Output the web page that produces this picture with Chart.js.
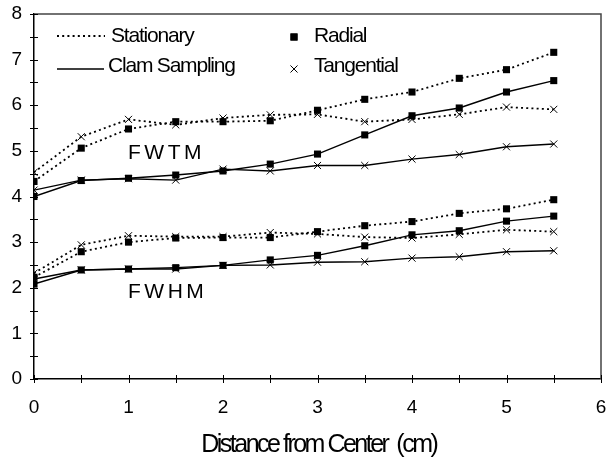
<!DOCTYPE html>
<html><head><meta charset="utf-8">
<script src="https://cdn.jsdelivr.net/npm/chart.js@4.4.1/dist/chart.umd.min.js"></script>
<style>html,body{margin:0;padding:0;background:#fff}</style>
</head><body>
<canvas id="c" width="607" height="462"></canvas>
<script>
const distances = [0, 0.5, 1, 1.5, 2, 2.5, 3, 3.5, 4, 4.5, 5, 5.5];
const xTickValues = [0, 1, 2, 3, 4, 5, 6];
const yTickValues = [0, 1, 2, 3, 4, 5, 6, 7, 8];

const fwtmRadialStationary     = [4.33, 5.06, 5.48, 5.64, 5.64, 5.66, 5.89, 6.13, 6.29, 6.59, 6.78, 7.16];
const fwtmTangentialStationary = [4.53, 5.31, 5.69, 5.57, 5.72, 5.79, 5.80, 5.64, 5.69, 5.80, 5.96, 5.91];
const fwtmRadialClam           = [4.00, 4.35, 4.40, 4.47, 4.56, 4.71, 4.93, 5.35, 5.77, 5.94, 6.29, 6.54];
const fwtmTangentialClam       = [4.14, 4.36, 4.39, 4.36, 4.60, 4.56, 4.68, 4.68, 4.82, 4.92, 5.09, 5.15];

const fwhmRadialStationary     = [2.23, 2.79, 3.00, 3.09, 3.10, 3.10, 3.23, 3.36, 3.45, 3.63, 3.73, 3.93];
const fwhmTangentialStationary = [2.32, 2.94, 3.14, 3.12, 3.12, 3.21, 3.18, 3.11, 3.09, 3.17, 3.27, 3.23];
const fwhmRadialClam           = [2.08, 2.39, 2.41, 2.44, 2.49, 2.61, 2.71, 2.92, 3.16, 3.25, 3.46, 3.57];
const fwhmTangentialClam       = [2.19, 2.39, 2.41, 2.41, 2.49, 2.50, 2.56, 2.57, 2.65, 2.68, 2.79, 2.81];

const FONT = "'Liberation Sans', Arial, sans-serif";

function pts(vals) { return vals.map((v, i) => ({x: distances[i], y: v})); }
function ds(label, vals, dotted, marker) {
  return {
    label, data: pts(vals), showLine: true,
    borderColor: '#000', backgroundColor: '#000',
    borderWidth: dotted ? 1.8 : 1.4,
    borderDash: dotted ? [2, 3.2] : [],
    pointStyle: marker === 'sq' ? 'rect' : 'crossRot',
    pointRadius: 5,
    pointBorderWidth: marker === 'sq' ? 0 : 1,
    pointBackgroundColor: '#000', pointBorderColor: '#000',
    tension: 0
  };
}

const datasets = [
  ds('FWTM Radial Stationary', fwtmRadialStationary, true, 'sq'),
  ds('FWTM Tangential Stationary', fwtmTangentialStationary, true, 'x'),
  ds('FWTM Radial Clam Sampling', fwtmRadialClam, false, 'sq'),
  ds('FWTM Tangential Clam Sampling', fwtmTangentialClam, false, 'x'),
  ds('FWHM Radial Stationary', fwhmRadialStationary, true, 'sq'),
  ds('FWHM Tangential Stationary', fwhmTangentialStationary, true, 'x'),
  ds('FWHM Radial Clam Sampling', fwhmRadialClam, false, 'sq'),
  ds('FWHM Tangential Clam Sampling', fwhmTangentialClam, false, 'x')
];

const decor = {
  id: 'decor',
  afterDraw(chart) {
    const ctx = chart.ctx, a = chart.chartArea;
    const xs = chart.scales.x, ys = chart.scales.y;
    ctx.save();
    ctx.strokeStyle = '#444'; ctx.lineWidth = 1.5;
    ctx.beginPath();
    ctx.moveTo(a.left, a.top); ctx.lineTo(a.right, a.top); ctx.lineTo(a.right, a.bottom);
    ctx.stroke();
    ctx.strokeStyle = '#000'; ctx.lineWidth = 1;
    ctx.beginPath();
    for (let v = xs.min; v <= xs.max + 1e-9; v += 0.5) {
      const px = Math.round(xs.getPixelForValue(v)) + 0.5;
      ctx.moveTo(px, a.bottom - 4); ctx.lineTo(px, a.bottom + 4);
    }
    for (let v = ys.min; v <= ys.max + 1e-9; v += 0.5) {
      const py = Math.round(ys.getPixelForValue(v)) + 0.5;
      ctx.moveTo(a.left - 4, py); ctx.lineTo(a.left + 4, py);
    }
    ctx.stroke();

    ctx.fillStyle = '#000';
    ctx.font = '21px ' + FONT;
    ctx.letterSpacing = '-1.2px';
    ctx.textBaseline = 'alphabetic';
    ctx.textAlign = 'left';
    ctx.lineWidth = 1.8; ctx.setLineDash([2, 3.2]);
    ctx.beginPath(); ctx.moveTo(57, 36); ctx.lineTo(105, 36); ctx.stroke();
    ctx.setLineDash([]); ctx.lineWidth = 1.4;
    ctx.beginPath(); ctx.moveTo(57, 69); ctx.lineTo(104, 69); ctx.stroke();
    ctx.fillText('Stationary', 111, 42);
    ctx.fillText('Clam Sampling', 108, 72);
    Chart.helpers.drawPoint(ctx, {pointStyle: 'rect', radius: 5, borderWidth: 0}, 294, 37);
    ctx.fill();
    ctx.lineWidth = 1;
    Chart.helpers.drawPoint(ctx, {pointStyle: 'crossRot', radius: 5, borderWidth: 1}, 294, 69);
    ctx.fillText('Radial', 314, 42);
    ctx.fillText('Tangential', 314, 72);

    ctx.font = '21px ' + FONT;
    ctx.letterSpacing = '3.5px';
    ctx.fillText('FWTM', 128, 159);
    ctx.fillText('FWHM', 128, 298);

    ctx.font = '25px ' + FONT;
    ctx.letterSpacing = '-2.5px';
    ctx.textAlign = 'center';
    ctx.fillText('Distance from Center  (cm)', (a.left + a.right) / 2 + 1.25, 452);
    ctx.restore();
  }
};

function zeroPad(s) { s.paddingLeft = 0; s.paddingRight = 0; s.paddingTop = 0; s.paddingBottom = 0; }

new Chart(document.getElementById('c'), {
  type: 'scatter',
  data: {datasets},
  plugins: [decor],
  options: {
    responsive: false,
    animation: false,
    events: [],
    layout: {padding: {left: 0, right: 6, top: 14, bottom: 0}},
    plugins: {legend: {display: false}, tooltip: {enabled: false}},
    scales: {
      x: {
        type: 'linear', min: 0, max: 6,
        afterBuildTicks: s => { s.ticks = xTickValues.map(v => ({value: v})); },
        afterFit: s => { s.height = 83; zeroPad(s); },
        grid: {display: false, drawTicks: false},
        border: {display: true, color: '#000', width: 1.5},
        ticks: {color: '#000', padding: 17, font: {family: FONT, size: 19}, maxRotation: 0, autoSkip: false}
      },
      y: {
        type: 'linear', min: 0, max: 8,
        afterBuildTicks: s => { s.ticks = yTickValues.map(v => ({value: v})); },
        afterFit: s => { s.width = 34; zeroPad(s); },
        grid: {display: false, drawTicks: false},
        border: {display: true, color: '#000', width: 1.5},
        ticks: {color: '#000', padding: 12, font: {family: FONT, size: 19}, autoSkip: false}
      }
    }
  }
});
</script>
</body></html>
